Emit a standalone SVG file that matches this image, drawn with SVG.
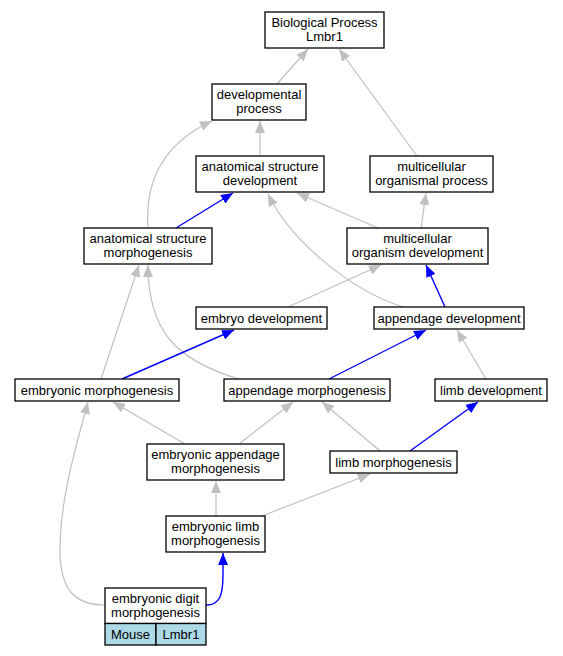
<svg xmlns="http://www.w3.org/2000/svg" width="563" height="656" viewBox="0 0 563 656">
<style>
.n rect{fill:#fff;stroke:#000;stroke-width:1.3}
.n rect.cell{fill:#add8e6}
.n text{font-family:"Liberation Sans",Arial,sans-serif;font-size:13px;text-anchor:middle;fill:#000}
.g{fill:none;stroke:#c0c0c0;stroke-width:1.2;marker-end:url(#ag)}
.b{fill:none;stroke:#0000ff;stroke-width:1.4;marker-end:url(#ab)}
</style>
<defs>
<marker id="ag" markerUnits="userSpaceOnUse" markerWidth="12" markerHeight="10" refX="12" refY="5" orient="auto"><path d="M0,0 L12,5 L0,10 z" fill="#c0c0c0"/></marker>
<marker id="ab" markerUnits="userSpaceOnUse" markerWidth="12" markerHeight="10" refX="12" refY="5" orient="auto"><path d="M0,0 L12,5 L0,10 z" fill="#0000ff"/></marker>
</defs>
<rect width="563" height="656" fill="#fff"/>
<g id="edges">
<path class="g" d="M277,84 L308,49"/>
<path class="g" d="M417,156 L339,49"/>
<path class="g" d="M260,156 L260,121"/>
<path class="g" d="M148,228 C145,185 160,145 212,121"/>
<path class="b" d="M176,228 L233,193"/>
<path class="g" d="M378,228 L297,193"/>
<path class="g" d="M403,307 C350,290 290,240 268,194"/>
<path class="g" d="M421,228 L426,193"/>
<path class="g" d="M288,307 L381,265"/>
<path class="b" d="M445,307 L426,265"/>
<path class="g" d="M101,379 L139,265"/>
<path class="g" d="M239,379 C175,360 148,330 148,265"/>
<path class="b" d="M122,379 L234,330"/>
<path class="b" d="M329,379 L426,330"/>
<path class="g" d="M486,379 L457,330"/>
<path class="g" d="M185,444 L113,402"/>
<path class="g" d="M239,444 L293,402"/>
<path class="g" d="M380,451 L322,402"/>
<path class="b" d="M410,451 L478,402"/>
<path class="g" d="M105,605 C75,605 60,590 60,550 C60,500 75,450 88,402"/>
<path class="g" d="M216,516 L216,481"/>
<path class="g" d="M262,516 L370,474"/>
<path class="b" d="M206,605 C220,605 223,595 223,575 L223,553"/>
</g>
<g id="bp" class="n"><rect x="265" y="12" width="119" height="36"/><text x="324.5" y="27">Biological Process</text><text x="324.5" y="41">Lmbr1</text></g>
<g id="dev" class="n"><rect x="212" y="84" width="94" height="36"/><text x="259" y="99">developmental</text><text x="259" y="113">process</text></g>
<g id="asd" class="n"><rect x="196" y="156" width="128" height="36"/><text x="260" y="171">anatomical structure</text><text x="260" y="185">development</text></g>
<g id="mop" class="n"><rect x="370" y="156" width="123" height="36"/><text x="431.5" y="171">multicellular</text><text x="431.5" y="185">organismal process</text></g>
<g id="asm" class="n"><rect x="84" y="228" width="128" height="36"/><text x="148" y="243">anatomical structure</text><text x="148" y="257">morphogenesis</text></g>
<g id="mod" class="n"><rect x="347" y="228" width="141" height="36"/><text x="417.5" y="243">multicellular</text><text x="417.5" y="257">organism development</text></g>
<g id="ed" class="n"><rect x="196" y="307" width="131" height="22"/><text x="261.5" y="322.5">embryo development</text></g>
<g id="ad" class="n"><rect x="374" y="307" width="150" height="22"/><text x="449" y="322.5">appendage development</text></g>
<g id="em" class="n"><rect x="15" y="379" width="164" height="22"/><text x="97" y="394.5">embryonic morphogenesis</text></g>
<g id="am" class="n"><rect x="224" y="379" width="166" height="22"/><text x="307" y="394.5">appendage morphogenesis</text></g>
<g id="ld" class="n"><rect x="435" y="379" width="112" height="22"/><text x="491" y="394.5">limb development</text></g>
<g id="eam" class="n"><rect x="147" y="444" width="137" height="36"/><text x="215.5" y="459">embryonic appendage</text><text x="215.5" y="473">morphogenesis</text></g>
<g id="lm" class="n"><rect x="330" y="451" width="127" height="22"/><text x="393.5" y="466.5">limb morphogenesis</text></g>
<g id="elm" class="n"><rect x="166" y="516" width="99" height="36"/><text x="215.5" y="531">embryonic limb</text><text x="215.5" y="545">morphogenesis</text></g>
<g id="edm" class="n"><rect x="105" y="588" width="101" height="35.5"/><text x="155.5" y="603">embryonic digit</text><text x="155.5" y="617">morphogenesis</text>
<rect class="cell" x="105" y="623.5" width="51" height="21.5"/><rect class="cell" x="156" y="623.5" width="50" height="21.5"/>
<text x="130.5" y="638.5">Mouse</text><text x="181" y="638.5">Lmbr1</text></g>
</svg>
